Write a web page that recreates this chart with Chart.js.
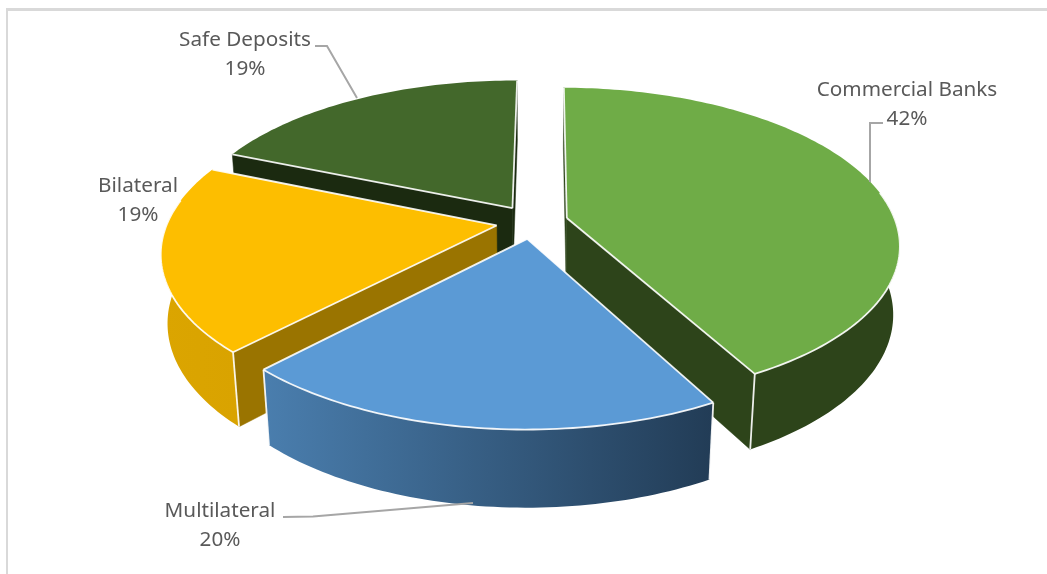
<!DOCTYPE html>
<html>
<head>
<meta charset="utf-8">
<title>Pie</title>
<script src="https://cdn.jsdelivr.net/npm/chart.js@4"></script>
<style>
    html, body { margin: 0; padding: 0; background: #fff; overflow: hidden; }
    #moldura { position: absolute; left: 6px; top: 8px; width: 1041px; height: 566px;
        border-top: 3px solid #d9d9d9; border-left: 2px solid #d9d9d9; box-sizing: border-box; }
    #grafico { position: absolute; left: 0; top: 0; }
</style>
</head>
<body>
<div id="moldura"></div>
<canvas id="grafico" width="1047" height="574"></canvas>
<script>
const categorias = ['Commercial Banks', 'Multilateral', 'Bilateral', 'Safe Deposits'];
const valores = [42, 20, 19.2, 18.8];

const coresTopo = ['#6fac47', '#5b9ad5', '#fdbe00', '#43682b'];
const coresCorte = ['#2d441a', '#2f5070', '#9a7400', '#1b2a10'];
const coresLateralEsq = ['#2d441a', '#4a7eae', '#dba500', '#1b2a10'];
const coresLateralDir = ['#2d441a', '#223c56', '#d9a300', '#1b2a10'];

// posicao dos rotulos: centro do texto
const rotulosX = [907, 220, 138, 245];
const rotulosY = [90, 511, 186, 40];
const linhasGuia = [
    [[870, 182], [870, 123], [883, 123]],
    [[283, 517], [313, 516.5], [473, 503]],
    [],
    [[315, 46], [327, 46], [357, 98]]
];

// camera do pie 3D
const cx = 532, cy = 222, raio = 329, achatado = 0.465, perspectiva = 0.165, altura = 69, encolhe = 0.018;

function projetar(u, v, z) {
    const p = 1 / (1 - perspectiva * v + encolhe * z);
    return [cx + raio * u * p, cy + raio * achatado * v * p + altura * z * p];
}

function caminho(ctx, pontos) {
    ctx.beginPath();
    pontos.forEach((pt, i) => i ? ctx.lineTo(pt[0], pt[1]) : ctx.moveTo(pt[0], pt[1]));
    ctx.closePath();
}

function areaSinal(pontos) {
    let s = 0;
    pontos.forEach((a, i) => {
        const b = pontos[(i + 1) % pontos.length];
        s += a[0] * b[1] - b[0] * a[1];
    });
    return s;
}

function desenharFatia(ctx, arco, i) {
    // angulos vem do proprio elemento do Chart.js, 0 = topo
    const ini = arco.startAngle + Math.PI / 2;
    const fim = arco.endAngle + Math.PI / 2;
    const meio = (ini + fim) / 2;
    const e = arco.options.offset / raio;
    const u0 = e * Math.sin(meio), v0 = -e * Math.cos(meio);
    const borda = (t, z) => projetar(u0 + Math.sin(t), v0 - Math.cos(t), z);
    const arcoPts = (a, b, z) => {
        const n = Math.max(2, Math.ceil((b - a) / 0.02));
        const pts = [];
        for (let k = 0; k <= n; k++) pts.push(borda(a + (b - a) * k / n, z));
        return pts;
    };
    const apice0 = projetar(u0, v0, 0), apice1 = projetar(u0, v0, 1);

    // cortes
    [[ini, -1], [fim, 1]].forEach(([t, lado]) => {
        const q = [apice0, borda(t, 0), borda(t, 1), apice1];
        if (areaSinal(q) * lado > 0) {
            caminho(ctx, q);
            ctx.fillStyle = coresCorte[i];
            ctx.fill();
            ctx.strokeStyle = coresCorte[i];
            ctx.lineWidth = 0.5;
            ctx.stroke();
        }
    });

    // lateral externa
    const a = Math.max(ini, 1.4), b = Math.min(fim, 4.88);
    let frente = null;
    if (b > a) {
        frente = arcoPts(a, b, 0);
        const pts = frente.concat(arcoPts(a, b, 1).reverse());
        const xs = pts.map(pt => pt[0]);
        const grad = ctx.createLinearGradient(Math.min(...xs), 0, Math.max(...xs), 0);
        grad.addColorStop(0, coresLateralEsq[i]);
        grad.addColorStop(1, coresLateralDir[i]);
        caminho(ctx, pts);
        ctx.fillStyle = grad;
        ctx.fill();
    }

    // topo
    caminho(ctx, [apice0].concat(arcoPts(ini, fim, 0)));
    ctx.fillStyle = coresTopo[i];
    ctx.fill();

    // filetes claros
    ctx.strokeStyle = 'rgba(255,255,255,0.9)';
    ctx.lineWidth = 1.8;
    [ini, fim].forEach(t => {
        const c = borda(t, 0);
        ctx.beginPath();
        ctx.moveTo(apice0[0], apice0[1]);
        ctx.lineTo(c[0], c[1]);
        ctx.stroke();
    });
    if (frente) {
        ctx.beginPath();
        frente.forEach((pt, k) => k ? ctx.lineTo(pt[0], pt[1]) : ctx.moveTo(pt[0], pt[1]));
        ctx.stroke();
        [ini, fim].forEach(t => {
            if (t > 1.4 && t < 4.88) {
                const c0 = borda(t, 0), c1 = borda(t, 1);
                ctx.beginPath();
                ctx.moveTo(c0[0], c0[1]);
                ctx.lineTo(c1[0], c1[1]);
                ctx.stroke();
            }
        });
    }
}

const pie3d = {
    id: 'pie3d',
    beforeDatasetsDraw(chart) {
        const ctx = chart.ctx;
        const arcos = chart.getDatasetMeta(0).data;
        const ordem = arcos.map((arco, i) => i).sort((a, b) => {
            const m = arco => (arco.startAngle + arco.endAngle) / 2 + Math.PI / 2;
            return -Math.cos(m(arcos[a])) + Math.cos(m(arcos[b]));
        });
        ctx.save();
        ctx.lineJoin = 'round';
        ordem.forEach(i => desenharFatia(ctx, arcos[i], i));
        ctx.restore();
        return false; // o desenho plano padrao nao e usado
    },
    afterDraw(chart) {
        const ctx = chart.ctx;
        const dados = chart.data.datasets[0].data;
        ctx.save();
        ctx.strokeStyle = '#a6a6a6';
        ctx.lineWidth = 2;
        linhasGuia.forEach(linha => {
            if (!linha.length) return;
            ctx.beginPath();
            linha.forEach((pt, k) => k ? ctx.lineTo(pt[0], pt[1]) : ctx.moveTo(pt[0], pt[1]));
            ctx.stroke();
        });
        ctx.fillStyle = '#595959';
        ctx.font = '20.7px "Noto Sans"';
        ctx.textAlign = 'center';
        ctx.textBaseline = 'middle';
        chart.data.labels.forEach((nome, i) => {
            ctx.fillText(nome, rotulosX[i], rotulosY[i]);
            ctx.fillText(Math.round(dados[i]) + '%', rotulosX[i], rotulosY[i] + 29);
        });
        ctx.restore();
    }
};

new Chart(document.getElementById('grafico').getContext('2d'), {
    type: 'pie',
    data: {
        labels: categorias,
        datasets: [{
            data: valores,
            backgroundColor: coresTopo,
            offset: 36
        }]
    },
    options: {
        responsive: false,
        animation: false,
        rotation: 0.4,
        plugins: {
            legend: { display: false },
            tooltip: { enabled: false }
        }
    },
    plugins: [pie3d]
});
</script>
</body>
</html>
